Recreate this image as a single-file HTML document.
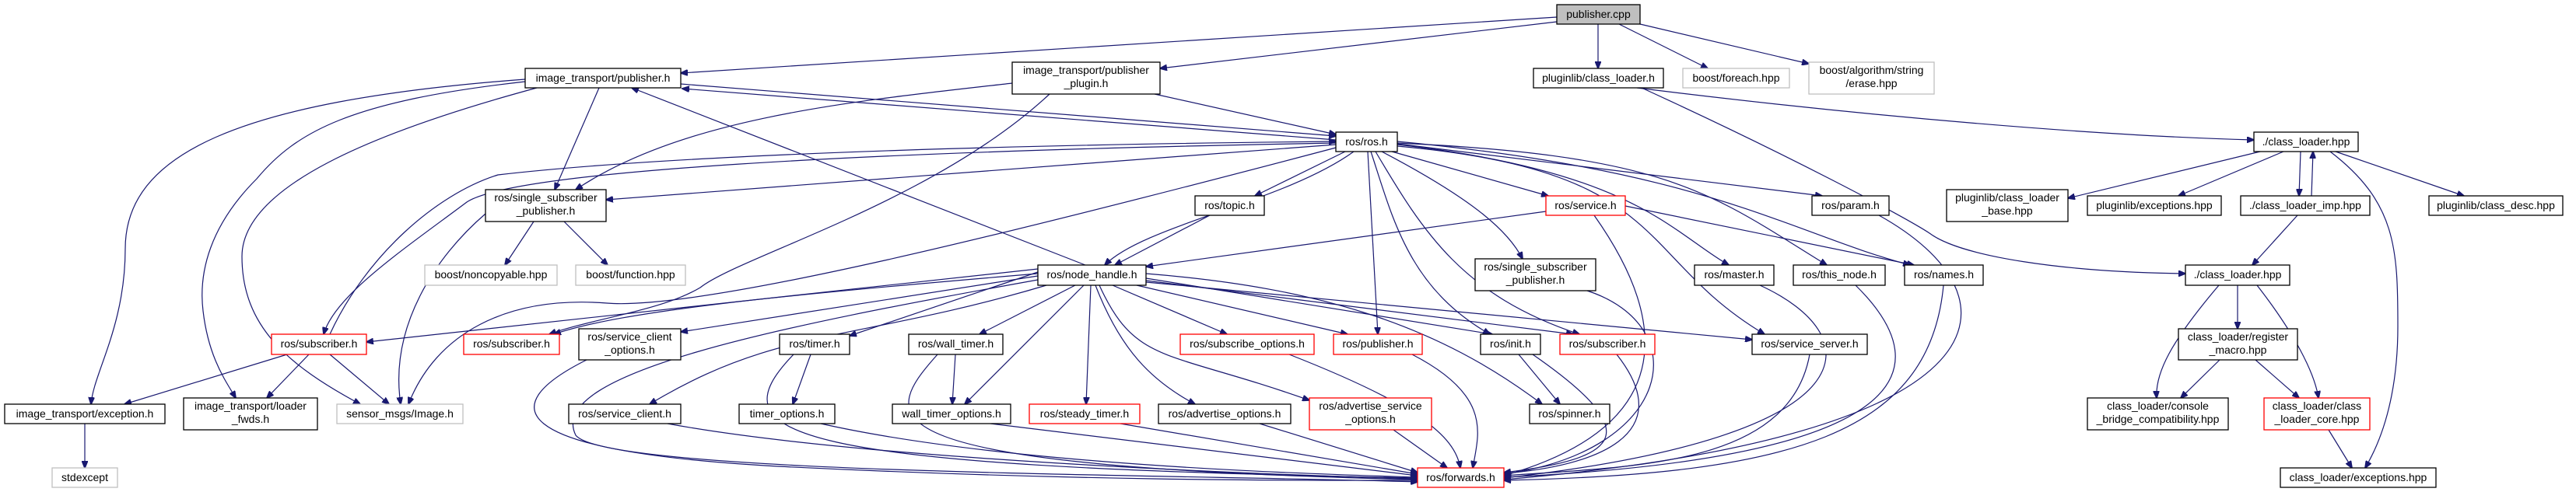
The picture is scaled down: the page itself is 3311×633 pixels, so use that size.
<!DOCTYPE html>
<html><head><meta charset="utf-8"><style>
html,body{margin:0;padding:0;background:#fff;}
svg{display:block;}
text{font-family:"Liberation Sans",sans-serif;font-size:14px;fill:#000;}
.e{fill:none;stroke:#191970;stroke-width:1.2;}
.n{fill:#fff;stroke:#000;stroke-width:1.3;}
.g{fill:#fff;stroke:#bfbfbf;stroke-width:1.3;}
.r{fill:#fff;stroke:#ff0000;stroke-width:1.3;}
</style></head><body>
<svg width="3311" height="633" viewBox="0 0 3311 633" xmlns="http://www.w3.org/2000/svg">
<defs><marker id="a" markerWidth="10" markerHeight="8" refX="9" refY="4" orient="auto" markerUnits="userSpaceOnUse"><path d="M0,0 L10,4 L0,8 z" fill="#191970" stroke="#191970"/></marker></defs>
<g class="e" marker-end="url(#a)">
<path d="M2001,22 L875,94"/>
<path d="M2001,28 L1491,88"/>
<path d="M2054,31 L2054,88"/>
<path d="M2081,31 L2195,88"/>
<path d="M2108,31 L2325,82"/>
<path d="M770,113 L713,244"/>
<path d="M875,108 L1717,175"/>
<path d="M1717,180 L877,114"/>
<path d="M675,102 C300,130 161,200 161,320 C161,420 120,480 117,520"/>
<path d="M675,105 C450,130 380,170 330,230 C270,290 255,350 261,400 C268,460 290,490 303,512"/>
<path d="M690,113 C480,170 311,240 311,330 C311,420 370,470 463,520"/>
<path d="M1717,186 L779,257"/>
<path d="M1301,107 C1100,130 880,150 740,244"/>
<path d="M1484,121 L1717,173"/>
<path d="M1349,121 C1200,260 950,330 900,370 C850,400 760,410 706,430"/>
<path d="M1717,190 C1300,300 900,400 780,390 C650,380 560,430 525,520"/>
<path d="M1717,184 C1100,195 660,220 600,260 C520,320 430,380 416,430"/>
<path d="M424,430 C470,330 560,250 640,225 C900,195 1400,185 1717,182"/>
<path d="M1395,341 L812,113"/>
<path d="M1729,195 L1613,252"/>
<path d="M1740,195 C1650,260 1470,290 1420,341"/>
<path d="M1555,277 L1433,341"/>
<path d="M1987,272 L1473,343"/>
<path d="M1789,195 L1990,252"/>
<path d="M1758,195 L1771,430"/>
<path d="M1762,195 C1790,280 1810,370 1915,430"/>
<path d="M1768,195 C1830,300 1880,380 2030,430"/>
<path d="M1776,195 C1900,260 1940,300 1957,333"/>
<path d="M1796,186 C2100,220 2150,300 2222,341"/>
<path d="M1796,184 C2150,200 2200,250 2348,341"/>
<path d="M1796,182 C2200,220 2300,300 2455,341"/>
<path d="M1796,185 L2342,252"/>
<path d="M1796,188 C2150,220 2100,330 2268,430"/>
<path d="M2089,265 L2460,341"/>
<path d="M2049,277 C2150,420 2150,550 1933,612"/>
<path d="M2415,277 C2600,380 2600,560 1933,617"/>
<path d="M2262,367 C2400,430 2420,560 1933,615"/>
<path d="M2385,367 C2500,480 2450,590 1933,614"/>
<path d="M2498,367 C2480,560 2300,610 1933,618"/>
<path d="M2326,456 C2300,600 2100,600 1933,612"/>
<path d="M2040,374 C2180,420 2150,580 1933,610"/>
<path d="M2078,456 C2160,560 2050,600 1933,609"/>
<path d="M1970,456 C2120,560 2080,590 1933,608"/>
<path d="M1952,456 L2005,520"/>
<path d="M1815,456 C1920,510 1900,560 1893,602"/>
<path d="M1791,553 L1860,602"/>
<path d="M1657,456 C1820,520 1870,560 1877,602"/>
<path d="M1619,545 L1822,608"/>
<path d="M1440,545 L1822,610"/>
<path d="M1273,545 L1822,612"/>
<path d="M1055,545 C1300,600 1700,610 1822,614"/>
<path d="M858,545 C1100,590 1600,610 1822,616"/>
<path d="M754,463 C640,520 640,580 1000,600 C1400,620 1700,618 1822,618"/>
<path d="M1334,360 C1000,420 700,480 740,560 C780,610 1500,610 1822,620"/>
<path d="M1228,456 L1224,520"/>
<path d="M1205,456 C1130,540 1100,600 1822,617"/>
<path d="M1042,456 L1019,520"/>
<path d="M1020,456 C920,560 1000,600 1822,615"/>
<path d="M1334,350 L1092,432"/>
<path d="M1382,367 L1259,430"/>
<path d="M1393,367 L1240,520"/>
<path d="M1402,367 L1396,520"/>
<path d="M1408,367 C1440,450 1480,490 1536,520"/>
<path d="M1413,367 C1460,470 1500,450 1683,515"/>
<path d="M1430,367 L1577,430"/>
<path d="M1461,367 L1732,430"/>
<path d="M1473,358 L1918,430"/>
<path d="M1473,361 L2022,430"/>
<path d="M1473,352 C1700,370 1850,420 1982,520"/>
<path d="M1473,363 L2252,437"/>
<path d="M1334,355 L875,427"/>
<path d="M1345,367 C1100,440 1000,420 835,520"/>
<path d="M1334,346 L471,440"/>
<path d="M1334,352 C1000,380 800,400 712,430"/>
<path d="M369,456 L160,520"/>
<path d="M397,456 L343,512"/>
<path d="M424,456 L500,520"/>
<path d="M686,285 L649,341"/>
<path d="M725,285 L781,341"/>
<path d="M624,275 C560,330 500,420 515,520"/>
<path d="M109,545 L109,602"/>
<path d="M2104,113 C2400,150 2700,175 2897,180"/>
<path d="M2110,113 C2300,200 2450,280 2480,300 C2520,330 2650,350 2809,352"/>
<path d="M2905,195 L2658,255"/>
<path d="M2935,195 L2800,252"/>
<path d="M2957,195 L2955,252"/>
<path d="M2971,252 L2973,195"/>
<path d="M3002,195 L3167,252"/>
<path d="M2995,195 C3080,260 3082,320 3082,420 C3082,500 3065,560 3040,602"/>
<path d="M2953,277 L2895,341"/>
<path d="M2876,367 L2876,423"/>
<path d="M2852,367 C2790,440 2770,480 2772,512"/>
<path d="M2901,367 C2950,430 2975,480 2980,512"/>
<path d="M2853,463 L2803,512"/>
<path d="M2899,463 L2955,512"/>
<path d="M2993,553 L3023,602"/>
</g>
<g text-anchor="middle">
<rect x="2001" y="6" width="107" height="25" fill="#bfbfbf" stroke="#000" stroke-width="1.3"/><text x="2054.5" y="23">publisher.cpp</text>
<rect class="n" x="675" y="88" width="200" height="25"/><text x="775" y="105">image_transport/publisher.h</text>
<rect class="n" x="1301" y="80" width="190" height="41"/><text x="1396" y="95">image_transport/publisher</text><text x="1396" y="112">_plugin.h</text>
<rect class="n" x="1971" y="88" width="167" height="25"/><text x="2054.5" y="105">pluginlib/class_loader.h</text>
<rect class="g" x="2163" y="88" width="137" height="25"/><text x="2231.5" y="105">boost/foreach.hpp</text>
<rect class="g" x="2325" y="80" width="161" height="41"/><text x="2405.5" y="95">boost/algorithm/string</text><text x="2405.5" y="112">/erase.hpp</text>
<rect class="n" x="1717" y="170" width="79" height="25"/><text x="1756.5" y="187">ros/ros.h</text>
<rect class="n" x="624" y="244" width="155" height="41"/><text x="701.5" y="259">ros/single_subscriber</text><text x="701.5" y="276">_publisher.h</text>
<rect class="n" x="1536" y="252" width="89" height="25"/><text x="1580.5" y="269">ros/topic.h</text>
<rect class="r" x="1987" y="252" width="102" height="25"/><text x="2038" y="269">ros/service.h</text>
<rect class="n" x="2329" y="252" width="99" height="25"/><text x="2378.5" y="269">ros/param.h</text>
<rect class="n" x="2502" y="244" width="156" height="41"/><text x="2580" y="259">pluginlib/class_loader</text><text x="2580" y="276">_base.hpp</text>
<rect class="n" x="2683" y="252" width="172" height="25"/><text x="2769" y="269">pluginlib/exceptions.hpp</text>
<rect class="n" x="2880" y="252" width="166" height="25"/><text x="2963" y="269">./class_loader_imp.hpp</text>
<rect class="n" x="3122" y="252" width="172" height="25"/><text x="3208" y="269">pluginlib/class_desc.hpp</text>
<rect class="n" x="2897" y="170" width="134" height="25"/><text x="2964" y="187">./class_loader.hpp</text>
<rect class="g" x="546" y="341" width="170" height="26"/><text x="631" y="358">boost/noncopyable.hpp</text>
<rect class="g" x="740" y="341" width="141" height="26"/><text x="810.5" y="358">boost/function.hpp</text>
<rect class="n" x="1334" y="341" width="139" height="26"/><text x="1403.5" y="358">ros/node_handle.h</text>
<rect class="n" x="1896" y="333" width="155" height="41"/><text x="1973.5" y="348">ros/single_subscriber</text><text x="1973.5" y="365">_publisher.h</text>
<rect class="n" x="2178" y="341" width="102" height="26"/><text x="2229" y="358">ros/master.h</text>
<rect class="n" x="2305" y="341" width="118" height="26"/><text x="2364" y="358">ros/this_node.h</text>
<rect class="n" x="2448" y="341" width="101" height="26"/><text x="2498.5" y="358">ros/names.h</text>
<rect class="n" x="2809" y="341" width="134" height="26"/><text x="2876" y="358">./class_loader.hpp</text>
<rect class="r" x="349" y="430" width="122" height="26"/><text x="410" y="447">ros/subscriber.h</text>
<rect class="r" x="596" y="430" width="123" height="26"/><text x="657.5" y="447">ros/subscriber.h</text>
<rect class="n" x="744" y="423" width="131" height="40"/><text x="809.5" y="438">ros/service_client</text><text x="809.5" y="455">_options.h</text>
<rect class="n" x="1002" y="430" width="90" height="26"/><text x="1047" y="447">ros/timer.h</text>
<rect class="n" x="1168" y="430" width="121" height="26"/><text x="1228.5" y="447">ros/wall_timer.h</text>
<rect class="r" x="1517" y="430" width="172" height="26"/><text x="1603" y="447">ros/subscribe_options.h</text>
<rect class="r" x="1714" y="430" width="114" height="26"/><text x="1771" y="447">ros/publisher.h</text>
<rect class="n" x="1903" y="430" width="77" height="26"/><text x="1941.5" y="447">ros/init.h</text>
<rect class="r" x="2005" y="430" width="122" height="26"/><text x="2066" y="447">ros/subscriber.h</text>
<rect class="n" x="2252" y="430" width="148" height="26"/><text x="2326" y="447">ros/service_server.h</text>
<rect class="n" x="2800" y="423" width="153" height="40"/><text x="2876.5" y="438">class_loader/register</text><text x="2876.5" y="455">_macro.hpp</text>
<rect class="n" x="6" y="520" width="206" height="25"/><text x="109" y="537">image_transport/exception.h</text>
<rect class="n" x="236" y="512" width="172" height="41"/><text x="322" y="527">image_transport/loader</text><text x="322" y="544">_fwds.h</text>
<rect class="g" x="433" y="520" width="162" height="25"/><text x="514" y="537">sensor_msgs/Image.h</text>
<rect class="n" x="731" y="520" width="144" height="25"/><text x="803" y="537">ros/service_client.h</text>
<rect class="n" x="950" y="520" width="123" height="25"/><text x="1011.5" y="537">timer_options.h</text>
<rect class="n" x="1147" y="520" width="152" height="25"/><text x="1223" y="537">wall_timer_options.h</text>
<rect class="r" x="1323" y="520" width="142" height="25"/><text x="1394" y="537">ros/steady_timer.h</text>
<rect class="n" x="1489" y="520" width="170" height="25"/><text x="1574" y="537">ros/advertise_options.h</text>
<rect class="r" x="1683" y="512" width="157" height="41"/><text x="1761.5" y="527">ros/advertise_service</text><text x="1761.5" y="544">_options.h</text>
<rect class="n" x="1966" y="520" width="103" height="25"/><text x="2017.5" y="537">ros/spinner.h</text>
<rect class="n" x="2683" y="512" width="181" height="41"/><text x="2773.5" y="527">class_loader/console</text><text x="2773.5" y="544">_bridge_compatibility.hpp</text>
<rect class="r" x="2910" y="512" width="136" height="41"/><text x="2978" y="527">class_loader/class</text><text x="2978" y="544">_loader_core.hpp</text>
<rect class="g" x="67" y="602" width="84" height="25"/><text x="109" y="619">stdexcept</text>
<rect class="r" x="1822" y="602" width="111" height="25"/><text x="1877.5" y="619">ros/forwards.h</text>
<rect class="n" x="2931" y="602" width="200" height="25"/><text x="3031" y="619">class_loader/exceptions.hpp</text>
</g>
</svg>
</body></html>
